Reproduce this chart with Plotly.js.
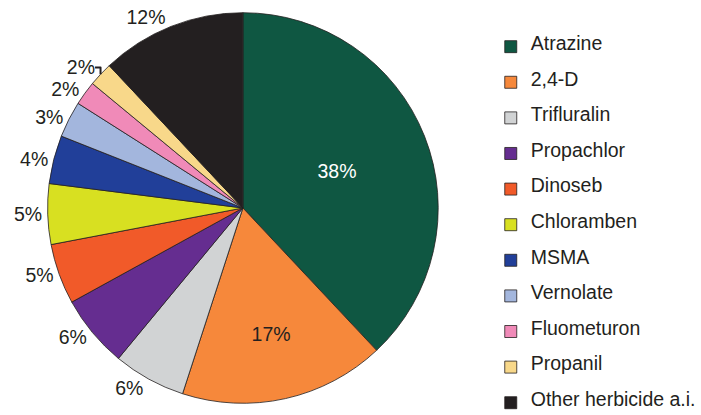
<!DOCTYPE html>
<html>
<head>
<meta charset="utf-8">
<script src="https://cdn.plot.ly/plotly-3.0.1.min.js"></script>
<style>html,body{margin:0;padding:0;background:#fff;}#chart{width:701px;height:415px;}</style>
</head>
<body>
<div id="chart"></div>
<script>
var herbicides = ["Atrazine", "2,4-D", "Trifluralin", "Propachlor", "Dinoseb", "Chloramben", "MSMA", "Vernolate", "Fluometuron", "Propanil", "Other herbicide a.i."];
var sharePercent = [38, 17, 6, 6, 5, 5, 4, 3, 2, 2, 12];
var sliceColors = ["#0f5742", "#f6883b", "#d1d3d4", "#652d90", "#f15a29", "#d8e021", "#213f99", "#a3b6dd", "#f08ab8", "#f8d88a", "#231f20"];

var textPos = sharePercent.map(function (v) { return v >= 15 ? "inside" : "outside"; });
var textCol = sharePercent.map(function (v, i) { return i === 0 ? "#ffffff" : "#231f20"; });
var legendLabels = herbicides.map(function (h) {
  return " <br> <br><span style=\"font-size:19.5px\">" + h + "</span>";
});

var trace = {
  type: "pie",
  labels: legendLabels,
  values: sharePercent,
  sort: false,
  direction: "clockwise",
  rotation: 0,
  marker: { colors: sliceColors, line: { color: "#231f20", width: 0.8 } },
  texttemplate: "%{value}%",
  textposition: textPos,
  insidetextorientation: "horizontal",
  textfont: { family: "Liberation Sans, Arial, sans-serif", size: 19.5, color: textCol },
  outsidetextfont: { family: "Liberation Sans, Arial, sans-serif", size: 19.5, color: "#231f20" },
  hoverinfo: "skip",
  domain: { x: [0.0685, 0.6305], y: [0.0241, 0.9735] }
};

var layout = {
  width: 701,
  height: 415,
  margin: { l: 0, r: 0, t: 0, b: 0 },
  paper_bgcolor: "#ffffff",
  showlegend: true,
  legend: {
    x: 495 / 701, xanchor: "left",
    y: 0, yanchor: "bottom",
    valign: "bottom",
    font: { family: "Liberation Sans, Arial, sans-serif", size: 8.36, color: "#231f20" },
    bgcolor: "rgba(0,0,0,0)",
    borderwidth: 0,
    traceorder: "normal"
  }
};

Plotly.newPlot("chart", [trace], layout, { staticPlot: true, displayModeBar: false });
</script>
</body>
</html>
